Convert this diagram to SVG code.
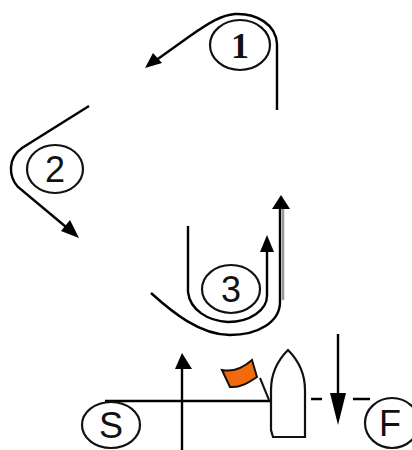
<svg xmlns="http://www.w3.org/2000/svg" width="412" height="450" viewBox="0 0 412 450">
<style>
.l{fill:none;stroke:#000;stroke-width:2.4}
.c{fill:#fff;stroke:#111;stroke-width:2.2}
.a{fill:#000;stroke:none}
text{font-family:"Liberation Sans",Arial,sans-serif;font-size:36px;text-anchor:middle;fill:#111}
.s{font-family:"Liberation Serif","Times New Roman",serif;font-weight:bold}
</style>
<rect width="412" height="450" fill="#fff"/>
<g id="connectors">
<path class="l" d="M277 110V44C276 24 256 13 235 14C222 15 210 22 190 36L155 61"/>
<path class="a" d="M145 68L153 53L162 63Z"/>
<path class="l" d="M89 106L22 148C8 158 8 176 18 187L72 232"/>
<path class="a" d="M79 238L61 231L70 220Z"/>
<path class="l" d="M188 226V292C190 310 208 321 228 322C250 322 267 310 267 296V245"/>
<path class="a" d="M267 235L274 252H260Z"/>
<path class="l" d="M151 293C172 312 200 335 230 335C258 335 280 322 280 302V205"/>
<path d="M283 205V300" fill="none" stroke="#999" stroke-width="2.5"/>
<path class="a" d="M281 195L290 209H272Z"/>
<path class="l" d="M105 401H270"/>
<path class="l" d="M311 399H322M353 399H370"/>
<path class="l" d="M182 365V450"/>
<path class="a" d="M182 353L192 369H175Z"/>
<path class="l" d="M338 334V400"/>
<path class="a" d="M338 425L330 393H346Z"/>
</g>
<g id="node-1"><ellipse class="c" cx="240" cy="45" rx="30" ry="25"/><text class="s" x="240" y="58">1</text></g>
<g id="node-2"><ellipse class="c" cx="55" cy="169" rx="28" ry="24"/><text x="55" y="182">2</text></g>
<g id="node-3"><ellipse class="c" cx="231" cy="289" rx="29" ry="24"/><text x="231" y="302">3</text></g>
<g id="start"><ellipse class="c" cx="111" cy="425" rx="29" ry="23"/><text x="111" y="438">S</text></g>
<g id="finish"><ellipse class="c" cx="392" cy="423" rx="27" ry="25"/><text x="390" y="436">F</text></g>
<g id="boat">
<path d="M269 400L260 378" fill="none" stroke="#111" stroke-width="2"/>
<path d="M222 370C232 372 243 368 252 360L257 377C248 383 240 388 230 387Z" fill="#f26a0c" stroke="#111" stroke-width="2"/>
<path d="M288 350C280 358 271 372 271 390V430L273 437H305V390C305 372 296 358 288 350Z" fill="#fff" stroke="#111" stroke-width="2.2"/>
</g>
</svg>
